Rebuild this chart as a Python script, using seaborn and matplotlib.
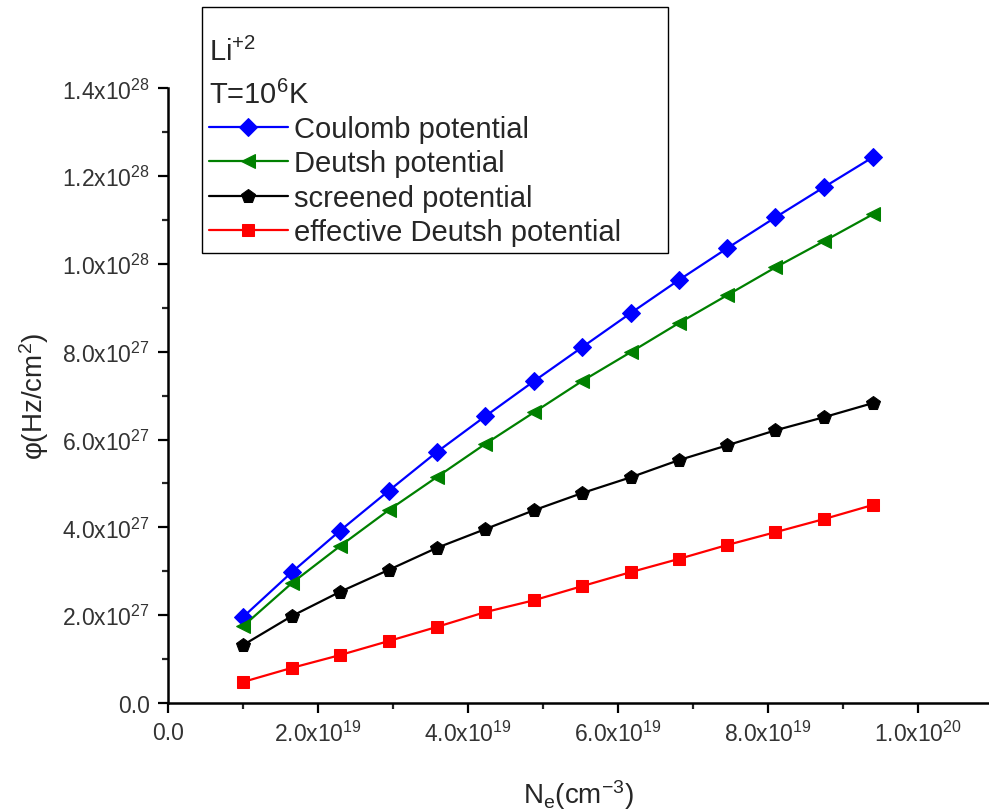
import numpy as np
import pandas as pd
import matplotlib
matplotlib.use("Agg")
import matplotlib.pyplot as plt
from matplotlib.ticker import MultipleLocator, FuncFormatter
from matplotlib.patches import Rectangle
import seaborn as sns

sns.set_style("ticks")
plt.rcParams['font.family'] = ['Liberation Sans', 'DejaVu Sans']
plt.rcParams['mathtext.fontset'] = 'custom'
plt.rcParams['mathtext.rm'] = 'Liberation Sans'
plt.rcParams['mathtext.it'] = 'Liberation Sans'

# densidade eletronica (cm^-3)
ne = np.array([1.0, 1.65, 2.29, 2.94, 3.58, 4.23, 4.88, 5.52, 6.17, 6.81,
               7.46, 8.10, 8.75, 9.40]) * 1e19

coulomb = np.array([1.96, 2.98, 3.92, 4.83, 5.71, 6.53, 7.33, 8.10, 8.88, 9.63,
                    10.36, 11.06, 11.75, 12.43]) * 1e27
deutsh = np.array([1.75, 2.73, 3.57, 4.39, 5.14, 5.90, 6.62, 7.33, 7.99, 8.65,
                   9.29, 9.92, 10.52, 11.13]) * 1e27
screened = np.array([1.32, 1.98, 2.53, 3.03, 3.53, 3.96, 4.39, 4.78, 5.14, 5.53,
                     5.87, 6.21, 6.51, 6.83]) * 1e27
eff_deutsh = np.array([0.48, 0.80, 1.09, 1.41, 1.73, 2.07, 2.34, 2.66, 2.98, 3.28,
                       3.60, 3.89, 4.19, 4.51]) * 1e27

series = [
    ("Coulomb potential", coulomb, "#0000FF", "D", 9.5),
    ("Deutsh potential", deutsh, "#008000", "<", 10.5),
    ("screened potential", screened, "black", "p", 10.5),
    ("effective Deutsh potential", eff_deutsh, "#FF0000", "s", 8.5),
]

fig = plt.figure(figsize=(9.89, 8.12), dpi=100)
ax = fig.add_axes([0.170, 0.133, 0.830, 0.757])

for nome, vals, cor, mk, ms in series:
    sns.lineplot(x=ne, y=vals, ax=ax, color=cor, marker=mk, markersize=ms,
                 markeredgecolor=cor, linewidth=1.6, label=nome)


def fmt(v, pos):
    if abs(v) < 1e-30:
        return "0.0"
    e = int(np.floor(np.log10(abs(v)) + 1e-9))
    m = v / 10**e
    return f"{m:.1f}x10$^{{{e}}}$"


ax.set_xlim(0, 1.095e20)
ax.set_ylim(0, 1.4e28)
ax.xaxis.set_major_locator(MultipleLocator(2e19))
ax.xaxis.set_minor_locator(MultipleLocator(1e19))
ax.yaxis.set_major_locator(MultipleLocator(2e27))
ax.yaxis.set_minor_locator(MultipleLocator(1e27))
ax.xaxis.set_major_formatter(FuncFormatter(fmt))
ax.yaxis.set_major_formatter(FuncFormatter(fmt))
ax.tick_params(which='major', length=7, width=1.6, labelsize=16.5, colors='black',
               labelcolor='#333333', pad=6)
ax.tick_params(which='minor', length=4, width=1.6)
sns.despine(ax=ax)
for s in ['left', 'bottom']:
    ax.spines[s].set_linewidth(1.8)
    ax.spines[s].set_color('black')

ax.set_xlabel("N$_e$(cm$^{-3}$)", fontsize=20, labelpad=22)
ax.set_ylabel("φ(Hz/cm$^2$)", fontsize=20, labelpad=8)

# caixa da legenda (maior que o conteudo, como no original)
fig.patches.append(Rectangle((0.2042, 0.6872), 0.4712, 0.3030,
                             transform=fig.transFigure, fill=False,
                             edgecolor='black', linewidth=1.0, zorder=5))

ax.get_legend().remove()
h, l = ax.get_legend_handles_labels()
leg = fig.legend(h, l, loc='upper left', bbox_to_anchor=(0.204, 0.963),
                 bbox_transform=fig.transFigure, borderaxespad=0,
                 title="Li$^{+2}$\nT=10$^6$K", alignment='left',
                 fontsize=21, title_fontsize=21, frameon=False,
                 handlelength=2.7, handletextpad=0.2, labelspacing=0.22,
                 borderpad=0.25, numpoints=1)
leg.get_title().set_linespacing(1.6)

fig.savefig("out.png", dpi=100)
